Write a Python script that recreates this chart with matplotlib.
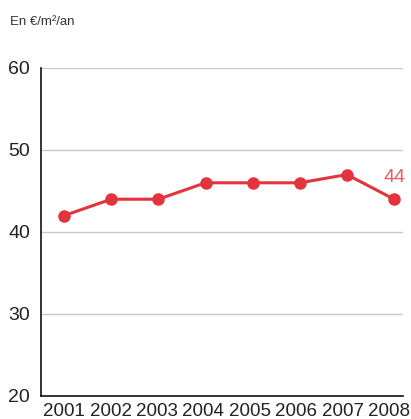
import matplotlib
matplotlib.use("Agg")
import matplotlib.pyplot as plt
from matplotlib.transforms import ScaledTranslation

# Coût au m² par an
years = [2001, 2002, 2003, 2004, 2005, 2006, 2007, 2008]
values = [42, 44, 44, 46, 46, 46, 47, 44]
y_ticks = [20, 30, 40, 50, 60]

red = "#e3333c"
plt.rcParams["font.family"] = ["Liberation Sans", "DejaVu Sans"]

fig = plt.figure(figsize=(4.11, 4.19), dpi=100)
ax = fig.add_axes([41 / 411, 1 - 396 / 419, 362 / 411, 328 / 419])

for t in y_ticks[1:]:
    ax.axhline(t, color="#c8c8c8", lw=1.0, zorder=1)

ax.plot(years, values, color=red, lw=2.2, marker="o", ms=8, zorder=3, clip_on=False)
ax.text(years[-1], values[-1] + 2.7, str(values[-1]), color="#ee5a60",
        fontsize=14, ha="center", va="center")

ax.set_xlim(2000.51, 2008.19)
ax.set_ylim(20, 60)
ax.set_xticks(years)
ax.set_yticks(y_ticks)
ax.tick_params(length=0, labelsize=14, colors="#222222")
ax.tick_params(axis="x", pad=5, labelsize=13.5)
ax.tick_params(axis="y", pad=8)

# les années sont un peu resserrées vers la gauche pour tenir dans le cadre
for i, lab in enumerate(ax.get_xticklabels()):
    lab.set_transform(lab.get_transform() + ScaledTranslation(-0.7 * i / 100, 0, fig.dpi_scale_trans))

for side in ("top", "right"):
    ax.spines[side].set_visible(False)
ax.spines["left"].set_color("#111111")
ax.spines["bottom"].set_color("#111111")
ax.spines["left"].set_linewidth(1.2)
ax.spines["bottom"].set_linewidth(1.2)

fig.text(10 / 411, 1 - 22 / 419, "En €/m²/an", fontsize=9.5, color="#333333",
         ha="left", va="center")

fig.savefig("out.png", dpi=100)
